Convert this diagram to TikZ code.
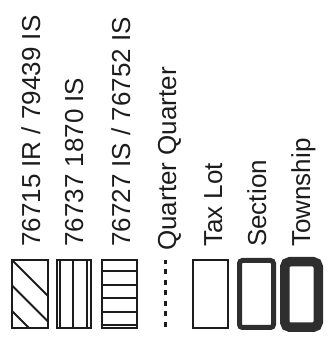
\documentclass[tikz,border=0pt]{standalone}
\usepackage{fontspec}
\setmainfont{Liberation Sans}
\begin{document}
\begin{tikzpicture}[x=1pt,y=1pt,
  lbl/.style={rotate=90,anchor=base west,inner sep=0pt,font=\fontsize{26}{30}\selectfont,text=ink},
  thinbox/.style={draw=ink,line width=2.3pt},
  hatch/.style={draw=ink,line width=1.8pt}]
\definecolor{ink}{HTML}{1C1C1C}
\definecolor{dark}{HTML}{2E2E2E}
\useasboundingbox (0,0) rectangle (328,339);
% labels
\node[lbl] (t1) at (40,92) {76715 IR / 79439 IS};
\node[lbl] (t2) at (83,92) {76737 1870 IS};
\node[lbl] (t3) at (130,92) {76727 IS / 76752 IS};
\node[lbl] (t4) at (176,88) {Quarter Quarter};
\node[lbl] (t5) at (222,92) {Tax Lot};
\node[lbl] (t6) at (266,92) {Section};
\node[lbl] (t7) at (310,92) {Township};
% box 1: diagonal hatch
\begin{scope}
\clip (12,11) rectangle (48,79);
\draw[hatch] (12,79) -- ++(80,-80);
\draw[hatch] (12,53.5) -- ++(80,-80);
\draw[hatch] (12,28) -- ++(80,-80);
\end{scope}
\draw[thinbox] (12,11) rectangle (48,79);
% box 2: vertical lines
\draw[hatch] (60,11) -- (60,79);
\draw[hatch] (73,11) -- (73,79);
\draw[hatch] (87,11) -- (87,79);
\draw[thinbox] (57,11) rectangle (91,79);
% box 3: horizontal lines
\foreach \yy in {68,54,41,27,14} {\draw[hatch] (102,\yy) -- (137,\yy);}
\draw[thinbox] (102,11) rectangle (137,79);
% quarter quarter dashed
\draw[draw=ink,line width=3pt,dash pattern=on 5pt off 5.5pt] (165,12) -- (165,79);
% tax lot
\draw[thinbox] (193,11) rectangle (228,79);
% section
\draw[draw=dark,line width=5pt,rounded corners=3pt] (239.5,11.5) rectangle (273.5,78.5);
% township
\draw[draw=dark,line width=9.5pt,rounded corners=5pt] (284.75,11.75) rectangle (318.25,77.25);
\end{tikzpicture}
\end{document}
